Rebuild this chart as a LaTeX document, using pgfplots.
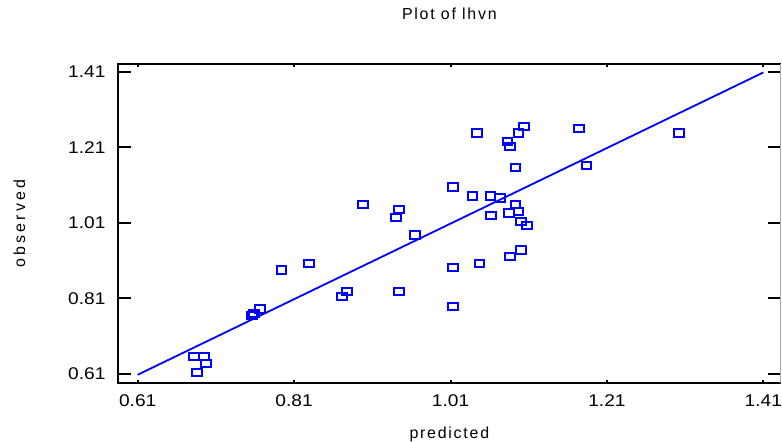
\documentclass[border=0pt]{standalone}
\usepackage{pgfplots}
\pgfplotsset{compat=1.18}
\usepackage{fontspec}
\setmainfont{Liberation Sans}
\newfontfamily\spacedA[LetterSpace=11]{Liberation Sans}
\newfontfamily\spacedB[LetterSpace=20]{Liberation Sans}
\definecolor{sgblue}{RGB}{0,0,255}
\begin{document}
\begin{tikzpicture}
\path[use as bounding box] (-118bp,-59bp) rectangle (664bp,383bp);
\begin{axis}[
  at={(0,0)}, anchor=south west,
  scale only axis,
  width=662.7bp, height=319bp,
  xmin=0.5848, xmax=1.4322, ymin=0.5862, ymax=1.4304,
  xtick={0.61,0.81,1.01,1.21,1.41},
  ytick={0.61,0.81,1.01,1.21,1.41},
  axis line style={draw=none},
  major tick length=13bp,
  tick style={black, line width=2bp},
  xtick style={/pgfplots/major tick length=3bp},
  tick align=inside,
  xticklabel={\scalebox{1.13}[1]{\pgfmathprintnumber[fixed,fixed zerofill,precision=2,assume math mode=true]{\tick}}},
  yticklabel={\scalebox{1.13}[1]{\pgfmathprintnumber[fixed,fixed zerofill,precision=2,assume math mode=true]{\tick}}},
  tick label style={font=\fontsize{17}{20}\selectfont},
  xticklabel style={yshift=-8.2bp},
  yticklabel style={xshift=-9bp},
  title={\spacedA Plot of lhvn},
  title style={at={(axis description cs:0.5,1.1223)}, anchor=base, font=\fontsize{16}{19}\selectfont},
  xlabel={\spacedA predicted},
  xlabel style={at={(axis description cs:0.5,-0.1755)}, anchor=base, font=\fontsize{16}{19}\selectfont},
  ylabel={\spacedB observed},
  ylabel style={at={(axis description cs:-0.1403,0.5)}, anchor=base, rotate=0, font=\fontsize{16}{19}\selectfont},
  clip=false,
]
\addplot[sgblue, line width=1.8bp] coordinates {(0.61,0.608) (1.41,1.408)};
\addplot[only marks, mark=square, mark size=3.6bp, mark options={sgblue, line width=2bp, xscale=1.35}] coordinates {
(0.898,1.059)
(0.944,1.046)
(0.940,1.025)
(0.965,0.978)
(1.044,1.248)
(1.104,1.265)
(1.097,1.248)
(1.083,1.226)
(1.086,1.212)
(1.174,1.259)
(1.302,1.248)
(1.093,1.156)
(1.184,1.162)
(1.013,1.105)
(1.038,1.081)
(1.061,1.081)
(1.073,1.076)
(1.093,1.059)
(1.062,1.030)
(1.085,1.036)
(1.097,1.040)
(1.100,1.013)
(1.108,1.002)
(1.100,0.938)
(1.086,0.920)
(1.047,0.903)
(1.013,0.891)
(1.013,0.788)
(0.794,0.885)
(0.829,0.903)
(0.871,0.816)
(0.878,0.828)
(0.944,0.828)
(0.766,0.782)
(0.759,0.771)
(0.756,0.764)
(0.682,0.656)
(0.695,0.656)
(0.697,0.638)
(0.686,0.614)
};
\draw[black, line width=2.6bp] (rel axis cs:1,1) -- (rel axis cs:0,1) -- (rel axis cs:0,0) -- (rel axis cs:1,0);
\draw[gray!70, line width=0.8bp] (rel axis cs:1,0) -- (rel axis cs:1,1);
\end{axis}
\end{tikzpicture}
\end{document}
